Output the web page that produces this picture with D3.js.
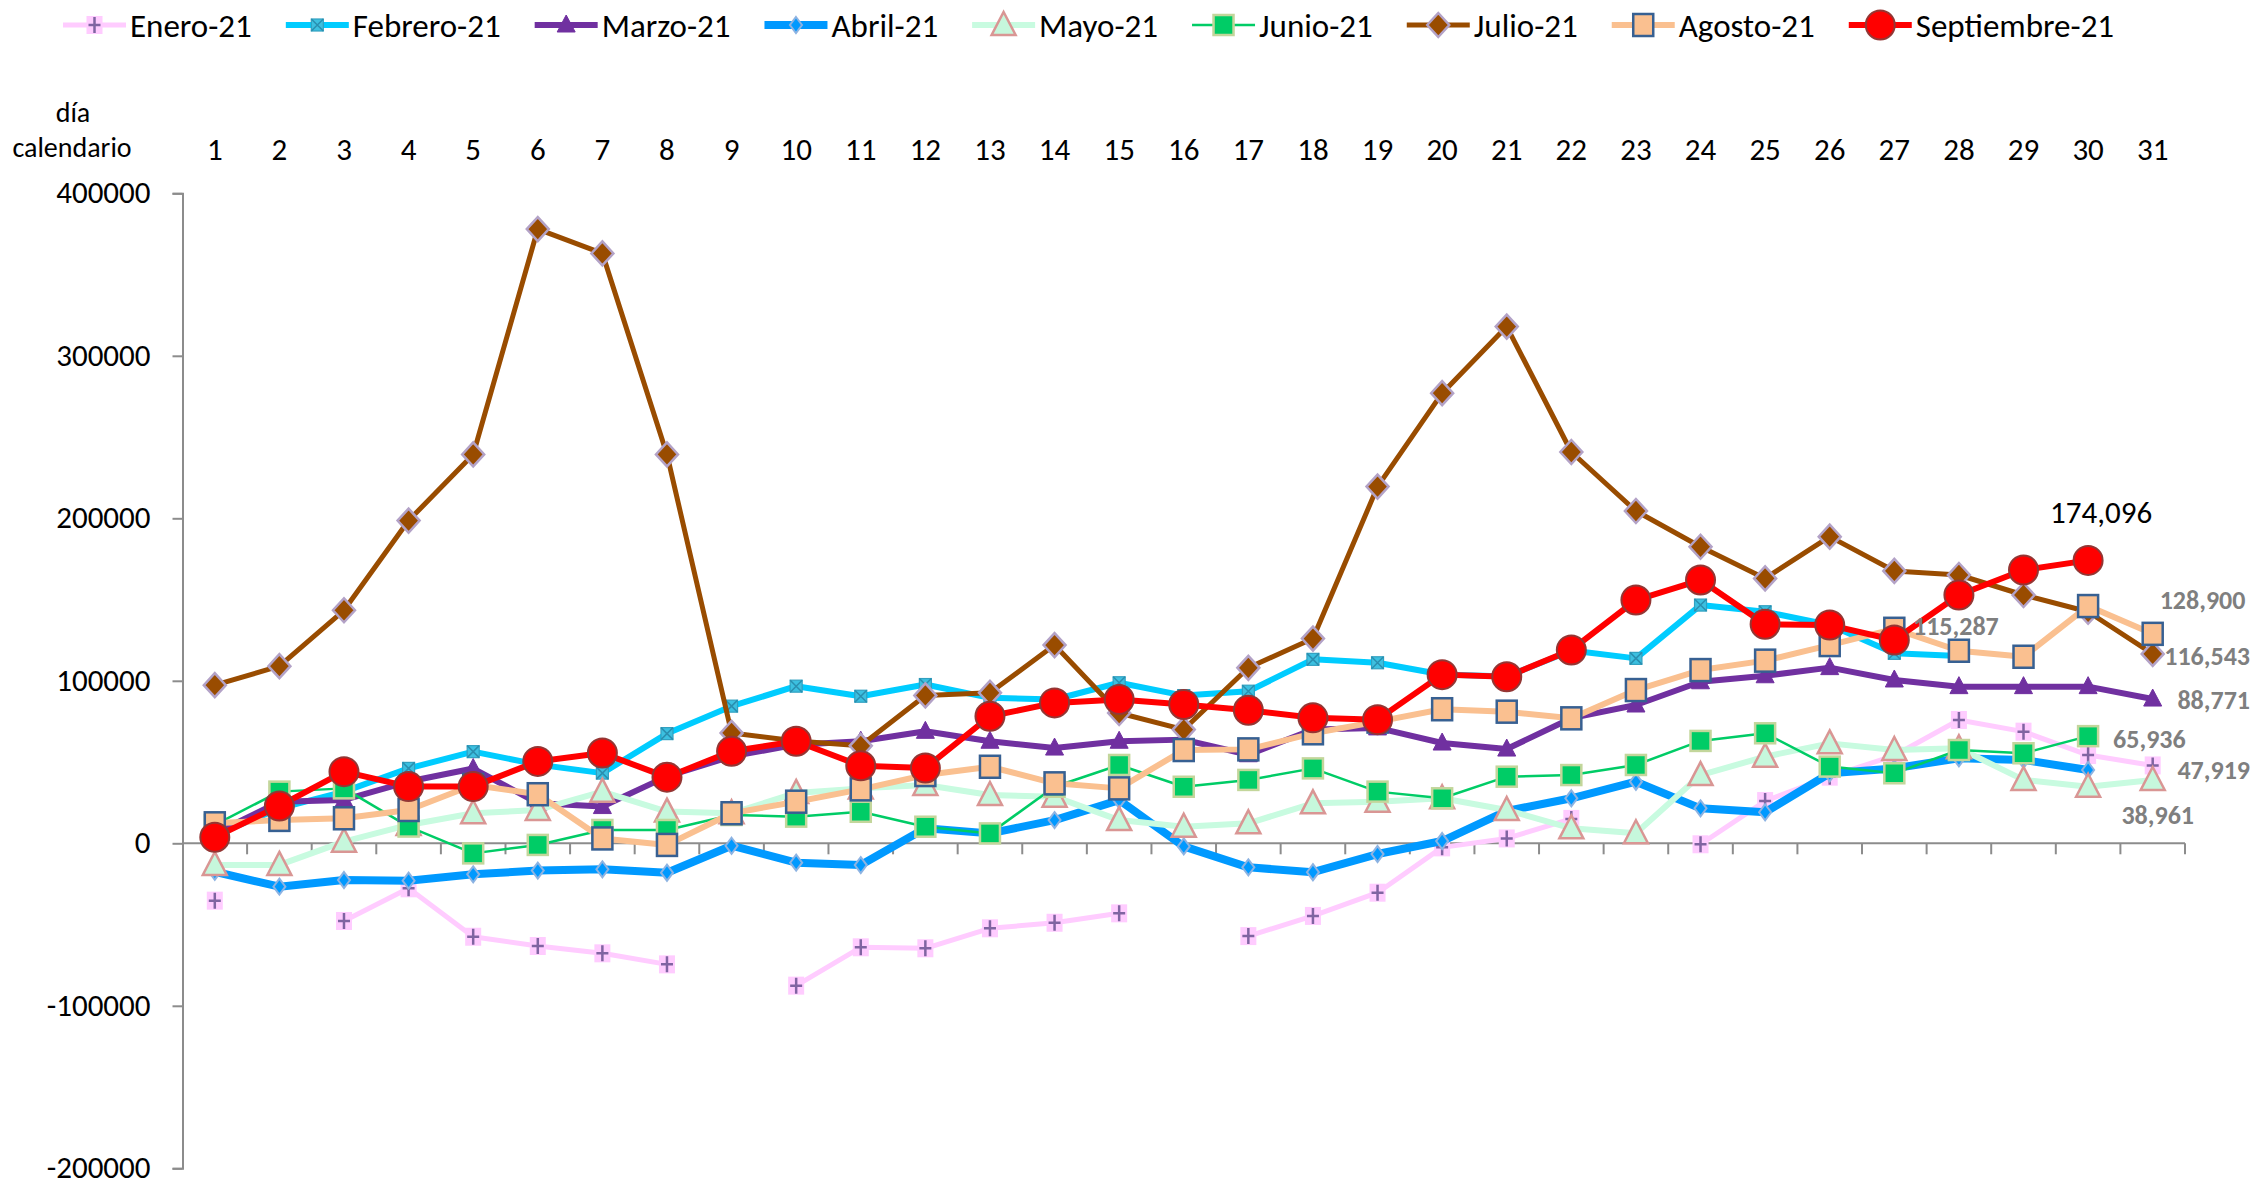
<!DOCTYPE html>
<html><head><meta charset="utf-8">
<script src="https://cdn.jsdelivr.net/npm/d3@7"></script>
<style>
html,body{margin:0;padding:0;background:#fff;}
svg{display:block;}
</style></head><body>
<svg id="chart" width="2257" height="1185"></svg>
<script>
// ---------- DATA ----------
const days = d3.range(1, 32);
const yTicks = [-200000, -100000, 0, 100000, 200000, 300000, 400000];
const seriesNames = ["Enero-21","Febrero-21","Marzo-21","Abril-21","Mayo-21","Junio-21","Julio-21","Agosto-21","Septiembre-21"];

const enero = [-35300,null,-47800,-27700,-57500,-63200,-67700,-74500,null,-87600,-64000,-64600,-52300,-48900,-43100,null,-57100,-44700,-30400,-2500,3000,15000,null,-600,26000,41000,54000,75900,68700,54300,47919];
const febrero = [5000,21500,31800,46100,56400,48400,43200,67500,84400,96700,90500,97700,89500,88500,98800,90900,93600,113200,111100,103900,102600,118600,113800,146600,142500,134300,116900,115287,null,null,null];
const marzo = [6000,25600,26700,38000,46000,24700,22600,41200,53500,60700,62800,68900,62800,58600,62800,63800,54500,70000,71000,61700,58000,77000,85100,99400,103100,108100,100500,96400,96400,96400,88771];
const abril = [-17500,-26700,-22600,-23000,-19100,-16800,-16000,-18100,-1500,-11900,-13400,9200,6100,14300,26600,-1900,-14800,-17800,-6600,1400,19900,27700,37900,21500,19100,43100,46100,52300,51300,45100,null];
const mayo = [-13300,-13300,1000,11300,18500,20500,31800,19500,18500,31000,33800,35900,29700,28700,14300,10200,12300,24600,25600,27700,20500,9200,6200,42000,53300,61500,57400,58500,39000,34800,38961];
const junio = [11300,31800,33800,10300,-6200,-1000,8200,8200,17400,16400,19400,10200,6100,34800,48200,34800,39000,46100,31800,27700,41000,42000,48200,63000,67700,47200,43100,57400,55400,65936,null];
const julio = [97300,109000,143400,198600,239300,378000,363000,239300,67900,63000,60000,91000,92600,122000,80200,70000,108000,126000,219500,277000,318000,240800,204500,182500,163000,188700,167600,165100,152800,142500,116543];
const agosto = [12300,14400,15400,20500,35900,30200,3000,-1000,18500,25600,33200,42000,47100,36900,33800,57400,57800,67700,74900,82500,81000,76900,94300,106600,112400,122000,132000,118500,114800,146000,128900];
const septiembre = [3700,23000,44100,34900,34900,50400,55600,40700,56600,62800,47700,46300,78200,86400,88500,85400,81900,77200,76100,103800,102500,119000,149700,162000,134800,134300,125100,152800,168200,174096,null];

const seriesValues = [enero, febrero, marzo, abril, mayo, junio, julio, agosto, septiembre];

// value labels: [series index, day]
const labelSeries = [8, 1, 7, 6, 2, 5, 0, 4];
const labelDays   = [30, 28, 31, 31, 31, 30, 31, 31];

// ---------- STYLE ----------
const FONT = "Carlito, Calibri, 'Liberation Sans Narrow', 'Arial Narrow', 'Liberation Sans', Arial, sans-serif";
const W = 2257, H = 1185;
const styles = [
  {line:"#ffccff", w:5,   marker:"plus"},
  {line:"#00ccff", w:6,   marker:"xsq"},
  {line:"#7030a0", w:6,   marker:"tri"},
  {line:"#0099ff", w:8,   marker:"diaS"},
  {line:"#c8fbe0", w:6,   marker:"triB"},
  {line:"#00cc66", w:2.5, marker:"sq"},
  {line:"#994c00", w:5,   marker:"dia"},
  {line:"#fac090", w:6,   marker:"sq2"},
  {line:"#ff0000", w:6,   marker:"circ"}
];
// label layout: mode, dx, dy, style
const labelLayout = [
  {mode:"above", dx:13, dy:-48, color:"#000", weight:"normal", size:31},
  {mode:"above", dx:-3, dy:-30, color:"#7f7f7f", weight:"bold", size:26},
  {mode:"right", dx:7,  dy:-34, color:"#7f7f7f", weight:"bold", size:26},
  {mode:"right", dx:25, dy:2,   color:"#7f7f7f", weight:"bold", size:26},
  {mode:"right", dx:25, dy:1,   color:"#7f7f7f", weight:"bold", size:26},
  {mode:"right", dx:25, dy:3,   color:"#7f7f7f", weight:"bold", size:26},
  {mode:"right", dx:25, dy:4,   color:"#7f7f7f", weight:"bold", size:26},
  {mode:"above", dx:5,  dy:35,  color:"#7f7f7f", weight:"bold", size:26}
];

const svg = d3.select("#chart").attr("font-family", FONT);

const x = d3.scaleBand().domain(days).range([182.5, 2185]).padding(0);
const y = d3.scaleLinear().domain([-200000, 400000]).range([1168.3, 193.3]);
const cx = d => x(d) + x.bandwidth() / 2;

// ---------- AXES ----------
const axisColor = "#8c8c8c";
const yAxis = d3.axisLeft(y).tickValues(yTicks).tickSize(10).tickPadding(22).tickFormat(d => String(d));
const gy = svg.append("g").attr("transform", `translate(${x.range()[0]},0)`).call(yAxis);
gy.select(".domain").attr("stroke", axisColor).attr("stroke-width", 2);
gy.selectAll(".tick line").attr("stroke", axisColor).attr("stroke-width", 2);
gy.selectAll(".tick text").attr("font-size", 31).attr("fill", "#000").attr("font-family", FONT).attr("dy", "0.3em");

// x axis line at zero with ticks at band boundaries
const gx = svg.append("g").attr("transform", `translate(0,${y(0)})`);
gx.append("line").attr("x1", x.range()[0]).attr("x2", x.range()[1]).attr("stroke", axisColor).attr("stroke-width", 2);
gx.selectAll("line.tk").data(days).join("line").attr("class","tk")
  .attr("x1", d => x(d) + x.bandwidth()).attr("x2", d => x(d) + x.bandwidth())
  .attr("y1", 0).attr("y2", 11).attr("stroke", axisColor).attr("stroke-width", 2);

// top category labels
svg.append("g").selectAll("text").data(days).join("text")
  .attr("x", d => cx(d)).attr("y", 160).attr("text-anchor", "middle")
  .attr("font-size", 31).text(d => d);
svg.append("text").attr("x", 73).attr("y", 122).attr("text-anchor","middle").attr("font-size", 28).text("día");
svg.append("text").attr("x", 72).attr("y", 157).attr("text-anchor","middle").attr("font-size", 28).text("calendario");

// ---------- MARKERS ----------
function drawMarker(g, type, s) {
  s = s || 1;
  switch (type) {
    case "plus":
      g.append("rect").attr("x", -8*s).attr("y", -9*s).attr("width", 16*s).attr("height", 18*s).attr("fill", "#ffccff");
      g.append("path").attr("d", `M${-6*s},0H${6*s}M0,${-8*s}V${8*s}`).attr("stroke", "#8064a2").attr("stroke-width", 2.5).attr("fill","none");
      break;
    case "xsq":
      g.append("rect").attr("x", -6*s).attr("y", -6*s).attr("width", 12*s).attr("height", 12*s).attr("fill", "#3cc0e0").attr("stroke", "#31a0c0").attr("stroke-width", 1.2);
      g.append("path").attr("d", `M${-6*s},${-6*s}L${6*s},${6*s}M${6*s},${-6*s}L${-6*s},${6*s}`).attr("stroke", "#2a8fb0").attr("stroke-width", 1.5);
      break;
    case "tri":
      g.append("path").attr("d", `M0,${-10*s}L${9*s},${7*s}L${-9*s},${7*s}Z`).attr("fill", "#7030a0").attr("stroke", "#7030a0").attr("stroke-width", 1);
      break;
    case "diaS":
      g.append("path").attr("d", `M0,${-8*s}L${6*s},0L0,${8*s}L${-6*s},0Z`).attr("fill", "#0099ff").attr("stroke", "#8db3e2").attr("stroke-width", 2);
      break;
    case "triB":
      g.append("path").attr("d", `M0,${-13*s}L${12*s},${10*s}L${-12*s},${10*s}Z`).attr("fill", "#c6f7dc").attr("stroke", "#d99694").attr("stroke-width", 2.5);
      break;
    case "sq":
      g.append("rect").attr("x", -10*s).attr("y", -10*s).attr("width", 20*s).attr("height", 20*s).attr("fill", "#00cc66").attr("stroke", "#c3d69b").attr("stroke-width", 2.5);
      break;
    case "dia":
      g.append("path").attr("d", `M0,${-12*s}L${11*s},0L0,${12*s}L${-11*s},0Z`).attr("fill", "#994c00").attr("stroke", "#b3a2c7").attr("stroke-width", 2.5);
      break;
    case "sq2":
      g.append("rect").attr("x", -10*s).attr("y", -11*s).attr("width", 20*s).attr("height", 22*s).attr("fill", "#fac090").attr("stroke", "#376092").attr("stroke-width", 2.5);
      break;
    case "circ":
      g.append("circle").attr("r", 14.5*s).attr("fill", "#ff0000").attr("stroke", "#943634").attr("stroke-width", 2);
      break;
  }
}

// ---------- SERIES ----------
const line = d3.line().defined(d => d.v != null).x(d => cx(d.day)).y(d => y(d.v));
const plot = svg.append("g");
seriesValues.forEach((vals, i) => {
  const data = days.map((d, k) => ({day: d, v: vals[k]}));
  const g = plot.append("g");
  g.append("path").datum(data).attr("d", line).attr("fill", "none")
    .attr("stroke", styles[i].line).attr("stroke-width", styles[i].w)
    .attr("stroke-linejoin", "round").attr("stroke-linecap", "round");
  g.selectAll("g.m").data(data.filter(d => d.v != null)).join("g").attr("class","m")
    .attr("transform", d => `translate(${cx(d.day)},${y(d.v)})`)
    .each(function() { drawMarker(d3.select(this), styles[i].marker, 1); });
});

// ---------- VALUE LABELS ----------
const fmt = d3.format(",");
labelSeries.forEach((si, k) => {
  const day = labelDays[k];
  const v = seriesValues[si][day - 1];
  const L = labelLayout[k];
  const t = svg.append("text").attr("font-size", L.size).attr("font-weight", L.weight)
    .attr("fill", L.color).attr("dy", "0.35em").text(fmt(v));
  const px = cx(day), py = y(v) + L.dy;
  if (L.mode === "above") {
    t.attr("x", px + L.dx).attr("y", py).attr("text-anchor", "middle");
  } else {
    const w = t.node().getComputedTextLength();
    const start = Math.min(px + L.dx, W - 7 - w);
    t.attr("x", start).attr("y", py).attr("text-anchor", "start");
  }
});

// ---------- LEGEND ----------
const leg = svg.append("g").attr("transform", "translate(0,25)");
let lx = 63;
seriesNames.forEach((name, i) => {
  const g = leg.append("g").attr("transform", `translate(${lx},0)`);
  g.append("line").attr("x1", 0).attr("x2", 63).attr("stroke", styles[i].line).attr("stroke-width", styles[i].w);
  const mg = g.append("g").attr("transform", "translate(31.5,0)");
  drawMarker(mg, styles[i].marker, 1);
  const t = g.append("text").attr("x", 67).attr("dy", "0.35em").attr("font-size", 33).text(name);
  lx += 67 + t.node().getComputedTextLength() + 34;
});
</script>
</body></html>
